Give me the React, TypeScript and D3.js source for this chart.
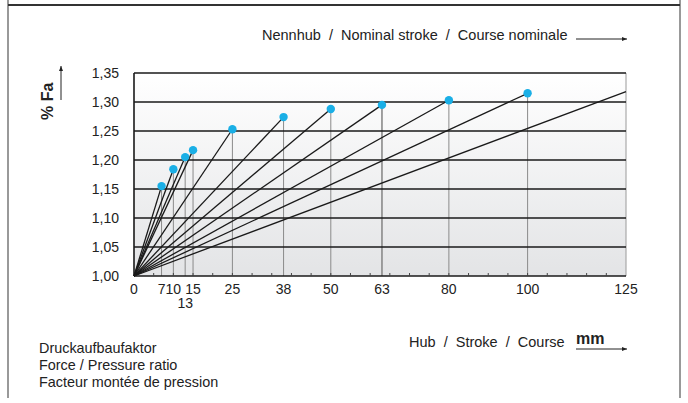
import React from "react";
import * as d3 from "d3";

// nominal strokes (mm) and the pressure build-up factor reached at each
const strokes = [7, 10, 13, 15, 25, 38, 50, 63, 80, 100];
const factors = [1.155, 1.184, 1.205, 1.217, 1.253, 1.274, 1.288, 1.295, 1.303, 1.315];
// the 125 mm line runs off the right edge without a dot
const lastStroke = 125;
const lastFactor = 1.318;

const xTickLabels = [0, 7, 10, 15, 25, 38, 50, 63, 80, 100, 125];
const xLowLabels = [13];
const yTicks = [1.0, 1.05, 1.1, 1.15, 1.2, 1.25, 1.3, 1.35];

const width = 688;
const height = 403;
const font = "'Liberation Sans', Arial, Helvetica, sans-serif";

const App: React.FC = () => {
  const x = d3.scaleLinear().domain([0, 125]).range([134, 626]);
  const y = d3.scaleLinear().domain([1.0, 1.35]).range([276, 73]);
  const fmt = (v: number) => d3.format(".2f")(v).replace(".", ",");
  const minor = d3.range(5, 125, 5);

  return (
    <svg
      width={width}
      height={height}
      style={{ position: "absolute", left: 0, top: 0, background: "#fff" }}
      fontFamily={font}
    >
      <defs>
        <linearGradient id="bg" x1="0" y1="0" x2="0" y2="1">
          <stop offset="0" stopColor="#ffffff" />
          <stop offset="1" stopColor="#e3e4e6" />
        </linearGradient>
        <marker id="arr" viewBox="0 0 10 10" refX="10" refY="5" markerWidth="7" markerHeight="5" orient="auto">
          <path d="M0,1 L10,5 L0,9 Z" fill="#222" />
        </marker>
      </defs>

      {/* frame */}
      <line x1={8} x2={8} y1={0} y2={398} stroke="#999" strokeWidth={2} />
      <line x1={680} x2={680} y1={0} y2={398} stroke="#999" strokeWidth={2} />
      <line x1={8} x2={680} y1={5} y2={5} stroke="#333" strokeWidth={2} />

      {/* plot background */}
      <rect x={x(0)} y={y(1.35)} width={x(125) - x(0)} height={y(1.0) - y(1.35)} fill="url(#bg)" />

      {/* vertical guides */}
      {strokes.map((s, i) => (
        <line key={"v" + s} x1={x(s)} x2={x(s)} y1={y(1.0)} y2={y(factors[i])}
          stroke="#8a8a8a" strokeWidth={s === 63 ? 1.6 : 1} />
      ))}
      <line x1={x(125)} x2={x(125)} y1={y(1.35)} y2={y(1.0)} stroke="#9a9a9a" strokeWidth={1} />

      {/* horizontal grid */}
      {yTicks.map((t) => (
        <line key={"h" + t} x1={x(0)} x2={x(125)} y1={y(t)} y2={y(t)} stroke="#1a1a1a" strokeWidth={1.6} />
      ))}
      <line x1={x(0)} x2={x(0)} y1={y(1.35)} y2={y(1.0)} stroke="#1a1a1a" strokeWidth={1.6} />

      {/* minor ticks */}
      {minor.map((m) => (
        <line key={"m" + m} x1={x(m)} x2={x(m)} y1={y(1.0) - 3} y2={y(1.0)} stroke="#444" strokeWidth={1} />
      ))}

      {/* rays */}
      {strokes.map((s, i) => (
        <line key={"r" + s} x1={x(0)} y1={y(1.0)} x2={x(s)} y2={y(factors[i])} stroke="#1a1a1a" strokeWidth={1.3} />
      ))}
      <line x1={x(0)} y1={y(1.0)} x2={x(lastStroke)} y2={y(lastFactor)} stroke="#1a1a1a" strokeWidth={1.3} />

      {/* dots */}
      {strokes.map((s, i) => (
        <circle key={"d" + s} cx={x(s)} cy={y(factors[i])} r={4.2} fill="#1aafe6" />
      ))}

      {/* y labels */}
      {yTicks.map((t) => (
        <text key={"yl" + t} x={119} y={y(t) + 5} textAnchor="end" fontSize={14} fill="#222">
          {fmt(t)}
        </text>
      ))}

      {/* x labels */}
      {xTickLabels.map((v) => (
        <text key={"xl" + v} x={x(v)} y={294} textAnchor="middle" fontSize={14} fill="#222">
          {v}
        </text>
      ))}
      {xLowLabels.map((v) => (
        <text key={"xll" + v} x={x(v)} y={308} textAnchor="middle" fontSize={14} fill="#222">
          {v}
        </text>
      ))}

      {/* y axis title */}
      <text transform="translate(53,120) rotate(-90)" fontSize={16} fontWeight="bold" fill="#222">
        % Fa
      </text>
      <line x1={61} x2={61} y1={100} y2={66} stroke="#222" strokeWidth={1} markerEnd="url(#arr)" />

      {/* top caption */}
      <text x={262} y={40} fontSize={14.5} fill="#222">
        Nennhub&#160; /&#160; Nominal stroke&#160; /&#160; Course nominale
      </text>
      <line x1={576} x2={627} y1={39} y2={39} stroke="#222" strokeWidth={1} markerEnd="url(#arr)" />

      {/* bottom captions */}
      <text x={409} y={347} fontSize={14.5} fill="#222">
        Hub&#160; /&#160; Stroke&#160; /&#160; Course
      </text>
      <text x={576} y={344} fontSize={16} fontWeight="bold" fill="#222">mm</text>
      <line x1={576} x2={627} y1={349} y2={349} stroke="#222" strokeWidth={1} markerEnd="url(#arr)" />

      <text x={39} y={353} fontSize={14.4} fill="#222">Druckaufbaufaktor</text>
      <text x={39} y={370} fontSize={14.4} fill="#222">Force / Pressure ratio</text>
      <text x={39} y={387} fontSize={14.4} fill="#222">Facteur montée de pression</text>
    </svg>
  );
};

export default App;
